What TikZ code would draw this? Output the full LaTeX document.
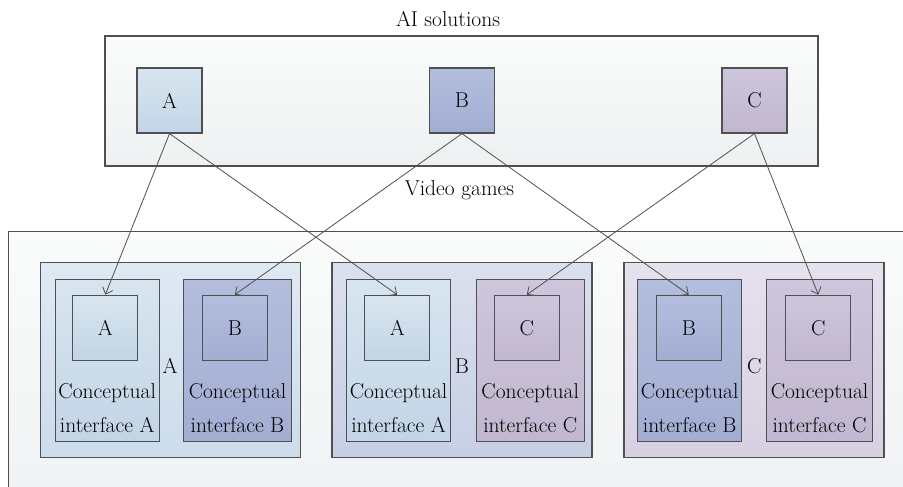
\documentclass[tikz,border=0pt]{standalone}
\usetikzlibrary{arrows.meta}

\definecolor{edgegray}{HTML}{505050}
\definecolor{aTop}{HTML}{D8E5F0}
\definecolor{aBot}{HTML}{C2D5E6}
\definecolor{bTop}{HTML}{B3BEDE}
\definecolor{bBot}{HTML}{A2ADD2}
\definecolor{cTop}{HTML}{CEC6DC}
\definecolor{cBot}{HTML}{C1B7D0}
\definecolor{gaTop}{HTML}{DFE9F3}
\definecolor{gaBot}{HTML}{CCDCEA}
\definecolor{gbTop}{HTML}{DBE0EF}
\definecolor{gbBot}{HTML}{C8CFE5}
\definecolor{gcTop}{HTML}{E5E1ED}
\definecolor{gcBot}{HTML}{D7D0E2}
\definecolor{frameTop}{HTML}{FAFBFB}
\definecolor{frameBot}{HTML}{EEF1F2}

\tikzset{
  x=1pt, y=-1pt,
  every node/.style={font=\fontsize{21.5}{25}\selectfont, inner sep=0pt},
  boxline/.style={draw=edgegray, line width=1.2pt},
  fillA/.style={top color=aTop, bottom color=aBot},
  fillB/.style={top color=bTop, bottom color=bBot},
  fillC/.style={top color=cTop, bottom color=cBot},
  sq/.style={boxline, rectangle, minimum width=65pt, minimum height=65pt},
  group/.style={boxline, rectangle, minimum width=260pt, minimum height=195pt},
  panel/.style={boxline, rectangle, minimum height=162pt},
  lbl/.style={anchor=base},
  link/.style={draw=edgegray, line width=0.8pt, -{Straight Barb[length=6pt,width=11pt]}},
}

\begin{document}
\begin{tikzpicture}
  \clip (0,0) rectangle (903,487);

  % outer frames
  \node[boxline, rectangle, minimum width=713pt, minimum height=130pt,
        top color=frameTop, bottom color=frameBot] (ai) at (461.5,101) {};
  \node (aititle) at (448,19) {AI solutions};
  \node[boxline, rectangle, minimum width=960pt, minimum height=320pt,
        top color=frameTop, bottom color=frameBot, anchor=north west] (vg) at (8,231) {};
  \node (vgtitle) at (459.5,190) {Video games};

  % AI solutions
  \node[sq, fillA] (tA) at (169.5,100.5) {A};
  \node[sq, fillB] (tB) at (462,100.5) {B};
  \node[sq, fillC] (tC) at (754.5,100.5) {C};

  % games
  \node[group, top color=gaTop, bottom color=gaBot] (g1) at (170.4,360) {};
  \node[group, top color=gbTop, bottom color=gbBot] (g2) at (461.9,360) {};
  \node[group, top color=gcTop, bottom color=gcBot] (g3) at (753.9,360) {};
  \node (g1name) at (170,366) {A};
  \node (g2name) at (462,366) {B};
  \node (g3name) at (754.3,366) {C};

  % conceptual interfaces
  \node[panel, fillA, minimum width=104pt] (p1a) at (107.2,360.2) {};
  \node[panel, fillB, minimum width=108pt] (p1b) at (237.5,360.2) {};
  \node[panel, fillA, minimum width=104pt] (p2a) at (398.5,360.2) {};
  \node[panel, fillC, minimum width=108pt] (p2c) at (530.2,360.2) {};
  \node[panel, fillB, minimum width=104pt] (p3b) at (689.7,360.2) {};
  \node[panel, fillC, minimum width=106pt] (p3c) at (819.5,360.2) {};

  \node[sq, fillA] (s1a) at (105.3,327.8) {A};
  \node[sq, fillB] (s1b) at (234.8,327.8) {B};
  \node[sq, fillA] (s2a) at (397.2,327.8) {A};
  \node[sq, fillC] (s2c) at (526.8,327.8) {C};
  \node[sq, fillB] (s3b) at (688.8,327.8) {B};
  \node[sq, fillC] (s3c) at (818.3,327.8) {C};

  \foreach \p/\n in {p1a/A, p1b/B, p2a/A, p2c/C, p3b/B, p3c/C}{
    \node[lbl] (\p-l1) at ([yshift=-38pt]\p.center) {Conceptual};
    \node[lbl] (\p-l2) at ([yshift=-72pt]\p.center) {interface \n};
  }

  % mappings
  \draw[link] (tA.south) -- (s1a.north);
  \draw[link] (tA.south) -- (s2a.north);
  \draw[link] (tB.south) -- (s1b.north);
  \draw[link] (tB.south) -- (s3b.north);
  \draw[link] (tC.south) -- (s2c.north);
  \draw[link] (tC.south) -- (s3c.north);
\end{tikzpicture}
\end{document}
